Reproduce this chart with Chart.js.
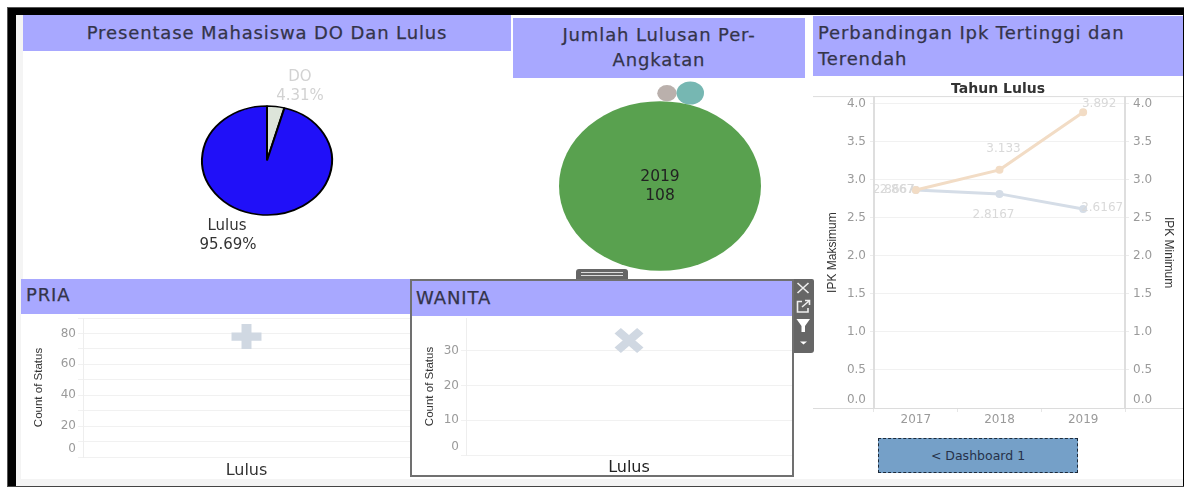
<!DOCTYPE html>
<html><head><meta charset="utf-8">
<script src="https://cdn.jsdelivr.net/npm/chart.js@4"></script>
<style>
html,body{margin:0;padding:0;background:#fff;overflow:hidden}
#page{position:relative;width:1184px;height:488px;font-family:"DejaVu Sans",sans-serif;overflow:hidden}
.abs{position:absolute;box-sizing:border-box}
.hdr{background:#a8a8ff;color:#34344a;font-size:18px;letter-spacing:.88px;white-space:nowrap;-webkit-text-stroke:.25px #34344a}
canvas{position:absolute}
</style></head><body>
<div id="page">
  <div class="abs" style="left:7px;top:7px;width:1177px;height:480px;background:#000;border-top:1px solid #555;border-left:1px solid #555;border-bottom:1px solid #444"></div>
  <div class="abs" style="left:16px;top:15px;width:1167px;height:471px;background:#f4f4f4"></div>
  <div class="abs" style="left:23px;top:15px;width:1160px;height:264px;background:#fff"></div>
  <div class="abs" style="left:21px;top:279px;width:1162px;height:200px;background:#fff"></div>

  <div class="abs hdr" style="left:23px;top:15px;width:488px;height:36px;line-height:36px;text-align:center">Presentase Mahasiswa DO Dan Lulus</div>
  <div class="abs hdr" style="left:513px;top:18px;width:292px;height:60px;line-height:25px;padding-top:4px;text-align:center">Jumlah Lulusan Per-<br>Angkatan</div>
  <div class="abs hdr" style="left:813px;top:16px;width:370px;height:60px;line-height:26px;padding:4px 0 0 5px">Perbandingan Ipk Tertinggi dan<br>Terendah</div>
  <div class="abs hdr" style="left:21px;top:279px;width:389px;height:35px;line-height:32px;padding-left:5px">PRIA</div>

  <canvas id="pieChart" style="left:23px;top:51px"></canvas>
  <canvas id="packChart" style="left:513px;top:78px"></canvas>
  <canvas id="lineChart" style="left:813px;top:78px"></canvas>
  <canvas id="priaChart" style="left:21px;top:314px"></canvas>

  <div class="abs" style="left:576px;top:269px;width:52px;height:11px;background:#666;border-radius:3px 3px 0 0"></div>
  <div class="abs" style="left:581px;top:272px;width:42px;height:1px;background:#ddd"></div>
  <div class="abs" style="left:581px;top:275px;width:42px;height:1px;background:#ddd"></div>
  <div class="abs" style="left:793px;top:279px;width:21px;height:74px;background:#666;border-radius:0 2px 3px 0"></div>
  <svg class="abs" style="left:793px;top:279px" width="21" height="74" viewBox="0 0 21 74">
    <path d="M4.5 4 L15.5 14 M15.5 4 L4.5 14" stroke="#eee" stroke-width="1.6" fill="none"/>
    <path d="M9 22.5 H4.5 V33 H15 V29" stroke="#eee" stroke-width="1.6" fill="none"/>
    <path d="M9 28 L16 22 M12 21.5 H16.5 V26" stroke="#eee" stroke-width="1.6" fill="none"/>
    <path d="M3.5 40 H17 L12 47 V53 H8.5 V47 Z" fill="#fff"/>
    <path d="M7 62.5 H14 L10.5 65.5 Z" fill="#fff"/>
  </svg>
  <div class="abs" style="left:410px;top:279px;width:384px;height:198px;background:#fff;border:2px solid #707070"></div>
  <div class="abs hdr" style="left:412px;top:281px;width:380px;height:35px;line-height:33px;padding-left:4px">WANITA</div>
  <canvas id="wanitaChart" style="left:412px;top:316px"></canvas>

  <div class="abs" style="left:878px;top:438px;width:200px;height:35px;background:#75a0c8;border:1px dashed #1c2a3a;color:#26324a;font-size:12.5px;line-height:34px;text-align:center">&lt; Dashboard 1</div>
</div>
<script>
// ---- data ----
const statusLabels = ['DO', 'Lulus'];
const statusShares = [4.31, 95.69];

const packYears = ['2017', '2018', '2019'];
const packCounts = [1, 2, 108];

const lineYears = ['2017', '2018', '2019'];
const ipkMaksimum = [2.867, 3.133, 3.892];
const ipkMinimum = [2.8667, 2.8167, 2.6167];

const genderCategory = ['Lulus'];
const priaCount = [78];
const wanitaCount = [33];

// ---- shared style ----
const FONT = '"DejaVu Sans", sans-serif';
const NARROW = '"Liberation Sans", sans-serif';
const TICK = '#9a9a9a', GRID = '#f1f1f1', AXIS = '#dedede';
const mk = (id, w, h, cfg) => {
  const c = document.getElementById(id);
  c.width = w; c.height = h;
  cfg.options = Object.assign({responsive:false, animation:false, devicePixelRatio:1,
    events:[]}, cfg.options);
  return new Chart(c, cfg);
};
const put = (ctx, txt, x, y, color, font) => {
  ctx.save(); ctx.fillStyle = color; ctx.font = font;
  ctx.textAlign = 'center'; ctx.textBaseline = 'middle';
  ctx.fillText(txt, x, y); ctx.restore();
};
// fixed box for an axis: no extra layout padding from its labels
const fix = (s, w, h) => {
  if (w !== null) s.width = w;
  if (h !== null) s.height = h;
  s.paddingTop = s.paddingBottom = s.paddingLeft = s.paddingRight = 0;
};
// the reference was squeezed vertically: round marks appear as ellipses
const squash = (k, centre) => ({
  beforeDatasetsDraw(ch){ const c = centre(ch), x = ch.ctx; x.save();
    x.translate(c.x, c.y); x.scale(1, k); x.translate(-c.x, -c.y); },
  afterDatasetsDraw(ch){ ch.ctx.restore(); }
});
const noLegend = {legend:{display:false}, tooltip:{enabled:false}, title:{display:false}};

// ---- pie ----
mk('pieChart', 488, 219, {
  type:'pie',
  data:{labels:statusLabels, datasets:[{data:statusShares,
    backgroundColor:['#dde5da','#2010f8'], borderColor:'#000', borderWidth:2, radius:65}]},
  options:{plugins:noLegend},
  plugins:[
    squash(0.838, ch => { const a = ch.getDatasetMeta(0).data[0]; return {x:a.x, y:a.y}; }),
    {afterDraw(ch){
      const a = ch.getDatasetMeta(0).data[0], c = ch.ctx, f = '15px '+FONT;
      put(c, statusLabels[0], a.x+33, a.y-83, '#d2d2d2', f);
      put(c, statusShares[0].toFixed(2)+'%', a.x+33, a.y-64, '#d2d2d2', f);
      put(c, statusLabels[1], a.x-40, a.y+66, '#333', f);
      put(c, statusShares[1].toFixed(2)+'%', a.x-39, a.y+85, '#333', f);
    }}
  ]
});

// ---- packed bubbles: radius follows sqrt(count), neighbours sit tangent to the big one ----
const bigRadius = 101;
const packAngles = [3.6, 15.3, 0];
const packR = packCounts.map(v => bigRadius*Math.sqrt(v/packCounts[2]));
const packPts = packCounts.map((v,i) => {
  const d = i === 2 ? 0 : bigRadius + packR[i], t = packAngles[i]*Math.PI/180;
  return {x:d*Math.sin(t), y:d*Math.cos(t), r:packR[i]};
});
mk('packChart', 292, 201, {
  type:'bubble',
  data:{datasets:[{data:packPts, clip:false,
    backgroundColor:['#bab0ac','#76b7b2','#59a14f'], borderWidth:0, hoverBorderWidth:0}]},
  options:{plugins:noLegend, layout:{padding:0, autoPadding:false},
    scales:{x:{display:false,min:-147,max:145}, y:{display:false,min:-93,max:108}}},
  plugins:[
    squash(0.84, ch => ({x:ch.scales.x.getPixelForValue(0), y:ch.scales.y.getPixelForValue(0)})),
    {afterDraw(ch){
      const x = ch.scales.x.getPixelForValue(0), y = ch.scales.y.getPixelForValue(0);
      put(ch.ctx, packYears[2], x, y-9, '#222', '15.5px '+FONT);
      put(ch.ctx, String(packCounts[2]), x, y+10, '#222', '15.5px '+FONT);
    }}
  ]
});

// ---- dual axis line ----
const ipkTick = v => v === 0 ? ['0.0',''] : v.toFixed(1);
const ipkAxis = (pos, width, title, pad) => ({
  position:pos, min:0, max:4.09,
  afterFit:s => fix(s, width, null),
  grid:{color:GRID, tickColor:'#ececec', tickLength:4},
  border:{display:true, color:AXIS, width:2},
  ticks:{stepSize:.5, includeBounds:false, autoSkip:false, color:TICK, padding:4, callback:ipkTick,
    font:{family:FONT,size:12,lineHeight:1.3}},
  title:{display:true, text:title, color:'#333', padding:{top:pad,bottom:0},
    font:{family:NARROW,size:12}}
});
const valueLabels = {
  afterDatasetsDraw(ch){
    const f = '12px '+FONT, col = '#d9d9d9';
    const a = ch.getDatasetMeta(0).data, b = ch.getDatasetMeta(1).data, c = ch.ctx;
    const offA = [[-19,0],[4,-21],[16,-8]], offB = [[-22,0],[-6,21],[19,-1]];
    a.forEach((p,i)=>put(c, String(ipkMaksimum[i]), p.x+offA[i][0], p.y+offA[i][1], col, f));
    b.forEach((p,i)=>put(c, String(ipkMinimum[i]), p.x+offB[i][0], p.y+offB[i][1], col, f));
  },
  afterDraw(ch){
    const c = ch.ctx, A = ch.chartArea; c.save(); c.fillStyle = '#dcdcdc';
    c.fillRect(0, A.top-1, ch.width, 1); c.fillRect(0, A.bottom, ch.width, 1); c.restore();
  }
};
mk('lineChart', 370, 352, {
  type:'line',
  data:{labels:lineYears, datasets:[
    {data:ipkMaksimum, yAxisID:'y', borderColor:'#f2dcc5', backgroundColor:'#f2dcc5', borderWidth:3, pointRadius:2.5, tension:0},
    {data:ipkMinimum, yAxisID:'y1', borderColor:'#d5dde7', backgroundColor:'#d5dde7', borderWidth:3, pointRadius:2.5, tension:0}
  ]},
  options:{layout:{padding:0, autoPadding:false},
    plugins:{legend:{display:false}, tooltip:{enabled:false},
      title:{display:true, text:'Tahun Lulus', color:'#333', padding:{top:3,bottom:0},
        font:{family:FONT,size:14,weight:'bold',lineHeight:1.15}}},
    scales:{
      x:{offset:true, afterFit:s=>fix(s, null, 22),
        grid:{offset:true, drawOnChartArea:false, color:'#e6e6e6', tickLength:4},
        border:{display:false},
        ticks:{color:TICK, padding:1, font:{family:FONT,size:12}}},
      y:ipkAxis('left', 61, 'IPK Maksimum', 12),
      y1:ipkAxis('right', 58, 'IPK Minimum', 7)
    }},
  plugins:[valueLabels]
});

// ---- single mark panels ----
const markPanel = (id, w, h, vals, ymax, left, marker, labelCol, xH, showEvery) => mk(id, w, h, {
  type:'line',
  data:{labels:genderCategory, datasets:[{data:vals, showLine:false,
    pointStyle:marker.style, pointRadius:marker.r, pointBorderWidth:marker.t,
    pointBorderColor:'#d0d8e2', pointBackgroundColor:'#d0d8e2'}]},
  options:{layout:{padding:{top:marker.top,right:0,left:0,bottom:0}, autoPadding:false}, plugins:noLegend,
    scales:{
      x:{offset:true, afterFit:s=>fix(s, null, xH), grid:{display:false, drawTicks:false}, border:{display:false},
        ticks:{color:labelCol, padding:marker.labelPad, font:{family:FONT,size:16}}},
      y:{min:0, max:ymax, afterFit:s=>fix(s, left, null),
        grid:{color:GRID, tickColor:'#f1f1f1', tickLength:5},
        border:{display:true, color:'#eeeeee', width:1},
        ticks:{stepSize:10, includeBounds:false, autoSkip:false, color:TICK, padding:2,
          callback:v => v === 0 ? ['0',''] : (v % showEvery === 0 ? String(v) : ''),
          font:{family:FONT,size:12,lineHeight:1.3}},
        title:{display:true, text:'Count of Status', color:'#333', padding:{top:11,bottom:0},
          font:{family:NARROW,size:11.5}}}
    }},
  plugins:[squash(marker.k, ch => { const p = ch.getDatasetMeta(0).data[0]; return {x:p.x, y:p.y}; })]
});
markPanel('priaChart', 389, 165, priaCount, 90, 62,
  {style:'cross', r:15, t:10, top:4, k:.83, labelPad:4}, '#333', 22, 20);
markPanel('wanitaChart', 380, 160, wanitaCount, 39.5, 54,
  {style:'crossRot', r:16, t:9, top:2, k:.86, labelPad:3}, '#222', 21, 10);
</script>
</body></html>
